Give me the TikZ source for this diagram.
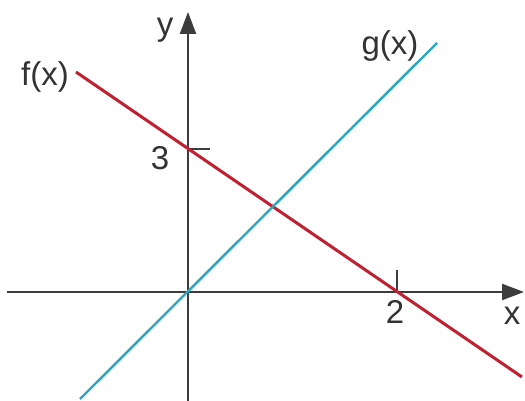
\documentclass[tikz,border=0pt]{standalone}
\usepackage{fontspec}
\setmainfont{Liberation Sans}
\usetikzlibrary{arrows.meta}
\definecolor{fred}{RGB}{192,32,48}
\definecolor{gblue}{RGB}{40,168,192}
\definecolor{axisgray}{RGB}{60,60,60}
\begin{document}
\begin{tikzpicture}[x=1pt,y=-1pt,
  axis/.style={draw=axisgray,line width=2.2pt,-{Triangle[length=22pt,width=16pt]}},
  tickmark/.style={draw=axisgray,line width=1.6pt},
  lbl/.style={font=\fontsize{33}{36}\selectfont,text=black!80,inner sep=0pt}]
\useasboundingbox (0,0) rectangle (525,401);
\fill[white] (0,0) rectangle (525,401);
\coordinate (xs) at (7,292);
\coordinate (xe) at (524,292);
\coordinate (ys) at (188,401);
\coordinate (ye) at (188,12);
\draw[axis] (xs) -- (xe);
\draw[axis] (ys) -- (ye);
\coordinate (t3a) at (188,149);
\coordinate (t3b) at (210,149);
\draw[tickmark] (t3a) -- (t3b);
\coordinate (t2a) at (397,292);
\coordinate (t2b) at (397,270);
\draw[tickmark] (t2a) -- (t2b);
\coordinate (fa) at (76,72);
\coordinate (fb) at (522,377);
\draw[fred,line width=3pt] (fa) -- (fb);
\coordinate (ga) at (80,399);
\coordinate (gb) at (437,43);
\draw[gblue,line width=2.4pt] (ga) -- (gb);
\node[lbl] (ylab) at (165,30) {y};
\node[lbl] (flab) at (45,77) {f(x)};
\node[lbl] (glab) at (390,46) {g(x)};
\node[lbl] (three) at (160,158) {3};
\node[lbl] (two) at (395,312) {2};
\node[lbl] (xlab) at (512,316) {x};
\end{tikzpicture}
\end{document}
